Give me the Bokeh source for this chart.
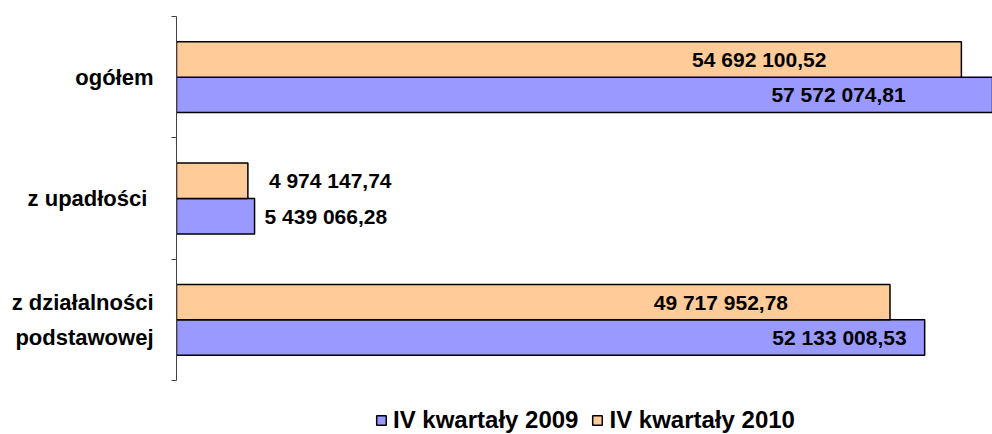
from bokeh.plotting import figure
from bokeh.models import (Range1d, FixedTicker, ColumnDataSource, Legend, LegendItem)
from bokeh.core.properties import value
from bokeh.transform import dodge
from bokeh.embed import file_html
from bokeh.resources import INLINE

# ---- data ----
categories = ["ogółem", "z upadłości ", "z działalności\npodstawowej"]
series = ["IV kwartały 2009", "IV kwartały 2010"]
values_2009 = [57572074.81, 5439066.28, 52133008.53]
values_2010 = [54692100.52, 4974147.74, 49717952.78]


def fmt(v):
    return f"{v:,.2f}".replace(",", " ").replace(".", ",")


# ---- styles ----
FONT = "Liberation Sans"
COL_2009 = "#9999FF"
COL_2010 = "#FFCC99"
align_2009 = ["right", "left", "right"]
xoff_2009 = [-97, 10, -18]
align_2010 = ["right", "left", "right"]
xoff_2010 = [-135, 21, -102]

n = len(categories)
# category slots, top to bottom (slot centre = n - 0.5 - index)
slot = [n - 0.5 - i for i in range(n)]

p = figure(width=992, height=434,
           y_range=Range1d(-0.445, n),
           x_range=Range1d(0, 56.86e6),
           output_backend="svg", toolbar_location=None,
           x_axis_location=None,
           min_border_left=176, min_border_top=16, min_border_right=0, min_border_bottom=0)
p.outline_line_color = None
p.grid.visible = False
p.background_fill_color = "white"
p.border_fill_color = "white"

ax = p.yaxis[0]
ax.bounds = (0, n)
ax.ticker = FixedTicker(ticks=slot, minor_ticks=list(range(n + 1)))
ax.major_label_overrides = {s: c for s, c in zip(slot, categories)}
ax.major_tick_out = 0
ax.major_tick_in = 0
ax.minor_tick_out = 5
ax.minor_tick_in = 0
ax.axis_line_color = "#404040"
ax.minor_tick_line_color = "#404040"
ax.major_label_standoff = 18
ax.major_label_text_font = FONT
ax.major_label_text_font_style = "bold"
ax.major_label_text_font_size = "22px"
ax.major_label_text_color = "black"
ax.major_label_text_line_height = 1.4

src09 = ColumnDataSource(dict(pos=slot, val=values_2009,
                              lab=[fmt(v) for v in values_2009], align=align_2009, xoff=xoff_2009))
src10 = ColumnDataSource(dict(pos=slot, val=values_2010,
                              lab=[fmt(v) for v in values_2010], align=align_2010, xoff=xoff_2010))

r09 = p.hbar(y=dodge("pos", -0.146), left=0, right="val", height=0.292,
             fill_color=COL_2009, line_color="black", line_width=1.5, source=src09)
r10 = p.hbar(y=dodge("pos", 0.146), left=0, right="val", height=0.292,
             fill_color=COL_2010, line_color="black", line_width=1.5, source=src10)

for src, off in ((src09, -0.146), (src10, 0.146)):
    p.text(x="val", y=dodge("pos", off), text="lab", source=src,
           text_align="align", x_offset="xoff", text_baseline="middle",
           text_font=value(FONT), text_font_style="bold", text_font_size="21px", text_color="black")

legend = Legend(items=[LegendItem(label=series[0], renderers=[r09]),
                       LegendItem(label=series[1], renderers=[r10])],
                orientation="horizontal", location=(199, 0),
                padding=0, margin=0, spacing=13, label_standoff=6,
                glyph_width=12, glyph_height=12, label_height=22,
                border_line_color=None, background_fill_alpha=0,
                label_text_font=FONT, label_text_font_style="bold",
                label_text_font_size="24px", label_text_color="black")
p.add_layout(legend, "center")

open("out.html", "w").write(file_html(p, INLINE))
